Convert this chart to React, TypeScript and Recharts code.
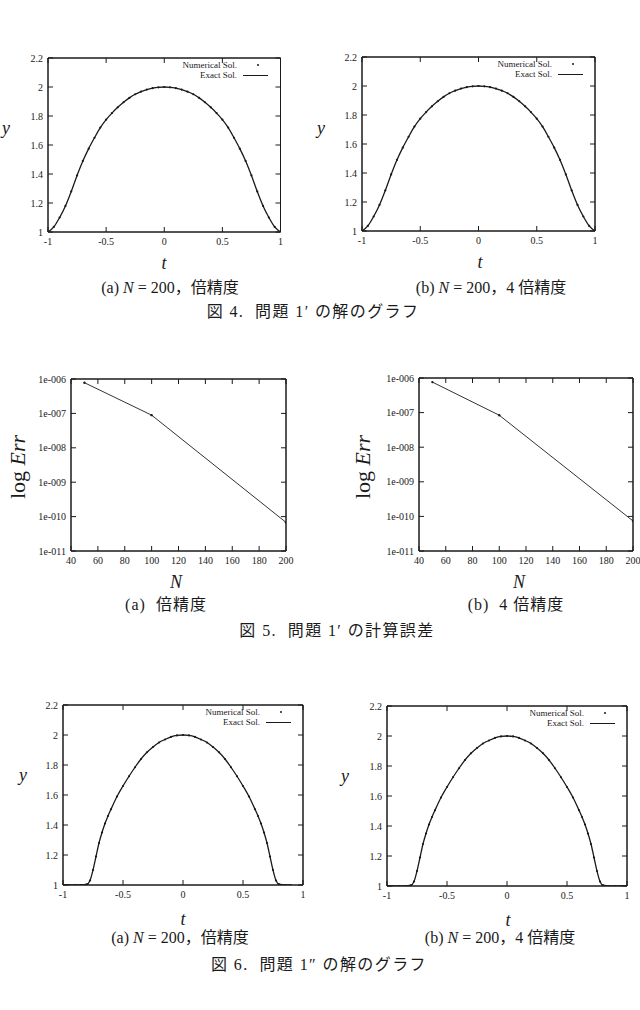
import React from 'react';
import { LineChart, Line, XAxis, YAxis, Legend, ReferenceArea } from 'recharts';

document.body.style.margin = '0';

// values
const tGrid = [
  -1, -0.95, -0.9, -0.85, -0.8, -0.75, -0.7, -0.65, -0.6, -0.55, -0.5,
  -0.45, -0.4, -0.35, -0.3, -0.25, -0.2, -0.15, -0.1, -0.05, 0,
  0.05, 0.1, 0.15, 0.2, 0.25, 0.3, 0.35, 0.4, 0.45, 0.5,
  0.55, 0.6, 0.65, 0.7, 0.75, 0.8, 0.85, 0.9, 0.95, 1,
];
const sol4a = [
  1.0, 1.035, 1.1, 1.18, 1.28, 1.39, 1.49, 1.575, 1.65, 1.72, 1.775,
  1.82, 1.86, 1.895, 1.925, 1.95, 1.968, 1.982, 1.992, 1.998, 2.0,
  1.998, 1.992, 1.982, 1.968, 1.95, 1.925, 1.895, 1.86, 1.82, 1.775,
  1.72, 1.65, 1.575, 1.49, 1.39, 1.28, 1.18, 1.1, 1.035, 1.0,
];
const sol4b = [
  1.0, 1.035, 1.1, 1.18, 1.28, 1.39, 1.49, 1.575, 1.65, 1.72, 1.775,
  1.82, 1.86, 1.895, 1.925, 1.95, 1.968, 1.982, 1.992, 1.998, 2.0,
  1.998, 1.992, 1.982, 1.968, 1.95, 1.925, 1.895, 1.86, 1.82, 1.775,
  1.72, 1.65, 1.575, 1.49, 1.39, 1.28, 1.18, 1.1, 1.035, 1.0,
];

const nGrid = [50, 100, 200];
const err5a = [7.8e-7, 8.9e-8, 6.8e-11];
const err5b = [7.6e-7, 8.4e-8, 7.4e-11];

// fig 6 (a): the numerical run stops near t = 0.9
const tKneeA = [
  -1, -0.95, -0.9, -0.85, -0.8, -0.775, -0.75, -0.725, -0.7, -0.675, -0.65, -0.625, -0.6,
  -0.55, -0.5, -0.45, -0.4, -0.35, -0.3, -0.25, -0.2, -0.15, -0.1, -0.05, 0,
  0.05, 0.1, 0.15, 0.2, 0.25, 0.3, 0.35, 0.4, 0.45, 0.5, 0.55, 0.6, 0.625, 0.65, 0.675,
  0.7, 0.725, 0.75, 0.775, 0.8, 0.85, 0.9,
];
const sol6a = [
  1.0, 1.0, 1.0, 1.0, 1.005, 1.03, 1.1, 1.19, 1.28, 1.35, 1.41, 1.46, 1.505,
  1.59, 1.66, 1.725, 1.785, 1.84, 1.885, 1.92, 1.95, 1.97, 1.987, 1.997, 2.0,
  1.997, 1.987, 1.97, 1.95, 1.92, 1.885, 1.84, 1.785, 1.725, 1.66, 1.59, 1.505, 1.46, 1.41, 1.35,
  1.28, 1.19, 1.1, 1.03, 1.005, 1.0, 1.0,
];
const tKneeB = [
  -1, -0.95, -0.9, -0.85, -0.8, -0.775, -0.75, -0.725, -0.7, -0.675, -0.65, -0.625, -0.6,
  -0.55, -0.5, -0.45, -0.4, -0.35, -0.3, -0.25, -0.2, -0.15, -0.1, -0.05, 0,
  0.05, 0.1, 0.15, 0.2, 0.25, 0.3, 0.35, 0.4, 0.45, 0.5, 0.55, 0.6, 0.625, 0.65, 0.675,
  0.7, 0.725, 0.75, 0.775, 0.8, 0.85, 0.9, 0.95, 1,
];
const sol6b = [
  1.0, 1.0, 1.0, 1.0, 1.005, 1.03, 1.1, 1.19, 1.28, 1.35, 1.41, 1.46, 1.505,
  1.59, 1.66, 1.725, 1.785, 1.84, 1.885, 1.92, 1.95, 1.97, 1.987, 1.997, 2.0,
  1.997, 1.987, 1.97, 1.95, 1.92, 1.885, 1.84, 1.785, 1.725, 1.66, 1.59, 1.505, 1.46, 1.41, 1.35,
  1.28, 1.19, 1.1, 1.03, 1.005, 1.0, 1.0, 1.0, 1.0,
];

const tTicks = [-1, -0.5, 0, 0.5, 1];
const yTicks = [1, 1.2, 1.4, 1.6, 1.8, 2, 2.2];
const nTicks = [40, 60, 80, 100, 120, 140, 160, 180, 200];
const errTicks = [1e-11, 1e-10, 1e-9, 1e-8, 1e-7, 1e-6];

const INK = '#1a1a1a';
const SERIF = '"Liberation Serif", "Noto Sans CJK JP", serif';
const AXIS = { stroke: INK, strokeWidth: 1 };
const TICK_LEN = 5;

const zip = (xs: number[], ys: number[]) => xs.map((x, i) => ({ x, y: ys[i] }));
const fmtNum = (v: number) => String(v);
const fmtExp = (v: number) => '1e-' + String(Math.round(-Math.log10(v))).padStart(3, '0');

// gnuplot style: tick marks point into the plot, labels sit outside
const BottomTick = ({ x, y, payload, fmt }: any) => (
  <g>
    <line x1={x} y1={y} x2={x} y2={y - TICK_LEN} stroke={INK} strokeWidth={1} />
    <text x={x} y={y + 13} textAnchor="middle" fontFamily={SERIF} fontSize={10} fill={INK}>
      {fmt(payload.value)}
    </text>
  </g>
);
const LeftTick = ({ x, y, payload, fmt }: any) => (
  <g>
    <line x1={x} y1={y} x2={x + TICK_LEN} y2={y} stroke={INK} strokeWidth={1} />
    <text x={x - 5} y={y + 3.5} textAnchor="end" fontFamily={SERIF} fontSize={10} fill={INK}>
      {fmt(payload.value)}
    </text>
  </g>
);
const TopTick = ({ x, y }: any) => (
  <line x1={x} y1={y} x2={x} y2={y + TICK_LEN} stroke={INK} strokeWidth={1} />
);
const RightTick = ({ x, y }: any) => (
  <line x1={x} y1={y} x2={x - TICK_LEN} y2={y} stroke={INK} strokeWidth={1} />
);

function KeyBox() {
  const row = { display: 'flex', justifyContent: 'flex-end', alignItems: 'center', height: 10 };
  return (
    <div style={{ fontFamily: SERIF, fontSize: 9, color: INK, lineHeight: '10px' }}>
      <div style={row}>
        <span>Numerical Sol.</span>
        <svg width={43} height={10}>
          <circle cx={21} cy={5} r={1} fill={INK} />
        </svg>
      </div>
      <div style={row}>
        <span>Exact Sol.</span>
        <svg width={43} height={10}>
          <line x1={6} x2={31} y1={5.5} y2={5.5} stroke={INK} />
        </svg>
      </div>
    </div>
  );
}

type Box = { l: number; t: number; r: number; b: number };

const PAD_L = 45;
const PAD_T = 10;
const PAD_R = 10;
const PAD_B = 22;
const MIRROR = 1; // size of the mirrored top / right axes

function SolPanel({ box, xs, ys }: { box: Box; xs: number[]; ys: number[] }) {
  const w = box.r - box.l + PAD_L + PAD_R;
  const h = box.b - box.t + PAD_T + PAD_B;
  return (
    <div style={{ position: 'absolute', left: box.l - PAD_L, top: box.t - PAD_T }}>
      <LineChart width={w} height={h} data={zip(xs, ys)}
        margin={{ top: PAD_T - MIRROR, right: PAD_R - MIRROR, bottom: 0, left: 0 }}>
        <XAxis dataKey="x" type="number" domain={[-1, 1]} ticks={tTicks} interval={0} allowDataOverflow
          height={PAD_B} tickSize={0} tickMargin={0} tickLine={false} axisLine={AXIS}
          tick={(p: any) => <BottomTick {...p} fmt={fmtNum} />} />
        <XAxis xAxisId="top" orientation="top" dataKey="x" type="number" domain={[-1, 1]} ticks={tTicks} interval={0}
          allowDataOverflow height={MIRROR} tickSize={0} tickMargin={0} tickLine={false} axisLine={AXIS}
          tick={(p: any) => <TopTick {...p} />} />
        <YAxis type="number" domain={[1, 2.2]} ticks={yTicks} interval={0} allowDataOverflow width={PAD_L}
          tickSize={0} tickMargin={0} tickLine={false} axisLine={AXIS}
          tick={(p: any) => <LeftTick {...p} fmt={fmtNum} />} />
        <YAxis yAxisId="right" orientation="right" type="number" domain={[1, 2.2]} ticks={yTicks} interval={0}
          allowDataOverflow width={MIRROR} tickSize={0} tickMargin={0} tickLine={false} axisLine={AXIS}
          tick={(p: any) => <RightTick {...p} />} />
        <ReferenceArea x1={-1} x2={1} y1={1} y2={2.2} fill="none" stroke={INK} strokeWidth={1}
          ifOverflow="visible" />
        <Legend layout="horizontal" verticalAlign="middle" align="center"
          wrapperStyle={{ top: PAD_T + 2, right: PAD_R, left: 'auto', width: 'auto', height: 'auto' }}
          content={() => <KeyBox />} />
        <Line dataKey="y" name="Exact Sol." type="monotone" stroke={INK} strokeWidth={1.3}
          dot={false} isAnimationActive={false} />
        <Line xAxisId="top" yAxisId="right" dataKey="y" name="Numerical Sol." stroke="none"
          dot={{ r: 1.1, fill: INK, stroke: 'none' }} activeDot={false} isAnimationActive={false} />
      </LineChart>
    </div>
  );
}

function ErrPanel({ box, errs }: { box: Box; errs: number[] }) {
  const w = box.r - box.l + PAD_L + PAD_R;
  const h = box.b - box.t + PAD_T + PAD_B;
  return (
    <div style={{ position: 'absolute', left: box.l - PAD_L, top: box.t - PAD_T }}>
      <LineChart width={w} height={h} data={zip(nGrid, errs)}
        margin={{ top: PAD_T - MIRROR, right: PAD_R - MIRROR, bottom: 0, left: 0 }}>
        <XAxis dataKey="x" type="number" domain={[40, 200]} ticks={nTicks} interval={0} allowDataOverflow
          height={PAD_B} tickSize={0} tickMargin={0} tickLine={false} axisLine={AXIS}
          tick={(p: any) => <BottomTick {...p} fmt={fmtNum} />} />
        <XAxis xAxisId="top" orientation="top" dataKey="x" type="number" domain={[40, 200]} ticks={nTicks} interval={0}
          allowDataOverflow height={MIRROR} tickSize={0} tickMargin={0} tickLine={false} axisLine={AXIS}
          tick={(p: any) => <TopTick {...p} />} />
        <YAxis type="number" scale="log" domain={[1e-11, 1e-6]} ticks={errTicks} interval={0} allowDataOverflow
          width={PAD_L} tickSize={0} tickMargin={0} tickLine={false} axisLine={AXIS}
          tick={(p: any) => <LeftTick {...p} fmt={fmtExp} />} />
        <YAxis yAxisId="right" orientation="right" type="number" scale="log" domain={[1e-11, 1e-6]} ticks={errTicks}
          interval={0} allowDataOverflow width={MIRROR} tickSize={0} tickMargin={0} tickLine={false} axisLine={AXIS}
          tick={(p: any) => <RightTick {...p} />} />
        <ReferenceArea x1={40} x2={200} y1={1e-11} y2={1e-6} fill="none" stroke={INK} strokeWidth={1}
          ifOverflow="visible" />
        <Line dataKey="y" type="linear" stroke="#333" strokeWidth={1} dot={false} isAnimationActive={false} />
        <Line xAxisId="top" yAxisId="right" dataKey="y" stroke="none"
          dot={{ r: 1.2, fill: INK, stroke: 'none' }} activeDot={false} isAnimationActive={false} />
      </LineChart>
    </div>
  );
}

function Txt({ x, y, size = 16, spacing = 0, rotate, children }: {
  x: number; y: number; size?: number; spacing?: number; rotate?: boolean; children: React.ReactNode;
}) {
  return (
    <div style={{
      position: 'absolute', left: x, top: y, whiteSpace: 'pre', color: INK,
      fontFamily: SERIF, fontSize: size, lineHeight: 1, letterSpacing: spacing,
      transform: `translate(-50%, -50%)${rotate ? ' rotate(-90deg)' : ''}`,
    }}>
      {children}
    </div>
  );
}

const I = ({ children }: { children: React.ReactNode }) => <i>{children}</i>;

export default function App() {
  return (
    <div style={{ position: 'relative', width: 640, height: 1010, overflow: 'hidden', background: '#fff' }}>
      {/* 図 4 */}
      <SolPanel box={{ l: 47.5, t: 58, r: 280, b: 232 }} xs={tGrid} ys={sol4a} />
      <SolPanel box={{ l: 362, t: 57, r: 595, b: 231 }} xs={tGrid} ys={sol4b} />
      <Txt x={6} y={128} size={18}><I>y</I></Txt>
      <Txt x={321} y={128} size={18}><I>y</I></Txt>
      <Txt x={164} y={263} size={18}><I>t</I></Txt>
      <Txt x={480} y={262} size={18}><I>t</I></Txt>
      <Txt x={170} y={288}>(a) <I>N</I> = 200，倍精度</Txt>
      <Txt x={491} y={288}>(b) <I>N</I> = 200，4 倍精度</Txt>
      <Txt x={313} y={312} spacing={1.4}>図 4.  問題 1′ の解のグラフ</Txt>

      {/* 図 5 */}
      <ErrPanel box={{ l: 71, t: 379, r: 286, b: 551 }} errs={err5a} />
      <ErrPanel box={{ l: 419, t: 378, r: 633, b: 551 }} errs={err5b} />
      <Txt x={18} y={467} size={22} rotate>log <I>Err</I></Txt>
      <Txt x={363} y={467} size={22} rotate>log <I>Err</I></Txt>
      <Txt x={176} y={582} size={18}><I>N</I></Txt>
      <Txt x={519} y={582} size={18}><I>N</I></Txt>
      <Txt x={166} y={605} spacing={1}>(a)  倍精度</Txt>
      <Txt x={516} y={605} spacing={1}>(b)  4 倍精度</Txt>
      <Txt x={337} y={631} spacing={1.4}>図 5.  問題 1′ の計算誤差</Txt>

      {/* 図 6 */}
      <SolPanel box={{ l: 63, t: 705, r: 303, b: 885 }} xs={tKneeA} ys={sol6a} />
      <SolPanel box={{ l: 387, t: 706, r: 627, b: 886 }} xs={tKneeB} ys={sol6b} />
      <Txt x={23} y={775} size={18}><I>y</I></Txt>
      <Txt x={345} y={776} size={18}><I>y</I></Txt>
      <Txt x={183} y={919} size={18}><I>t</I></Txt>
      <Txt x={508} y={920} size={18}><I>t</I></Txt>
      <Txt x={180} y={938}>(a) <I>N</I> = 200，倍精度</Txt>
      <Txt x={500} y={938}>(b) <I>N</I> = 200，4 倍精度</Txt>
      <Txt x={319} y={965} spacing={1.4}>図 6.  問題 1″ の解のグラフ</Txt>
    </div>
  );
}
